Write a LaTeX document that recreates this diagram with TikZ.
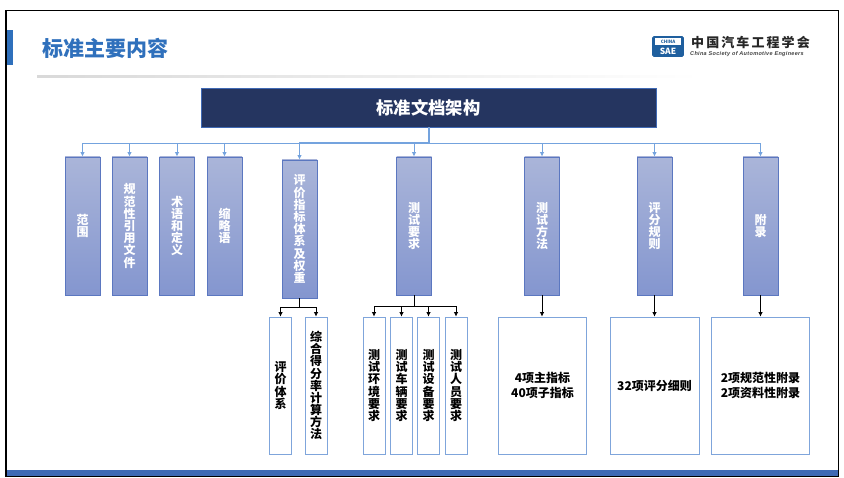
\documentclass[tikz,border=0pt]{standalone}
\usepackage{fontspec}
\setmainfont{Noto Sans CJK SC}
\newfontfamily\logofont[LetterSpace=16]{Noto Sans CJK SC}
\newfontfamily\engfont[LetterSpace=6]{Liberation Sans}
\usetikzlibrary{arrows.meta}
\definecolor{titleblue}{HTML}{2F70BC}
\definecolor{barblue}{HTML}{3F69B4}
\definecolor{navy}{HTML}{253560}
\definecolor{edgeblue}{HTML}{5B77C0}
\definecolor{paleblue}{HTML}{7FA5DB}
\definecolor{busblue}{HTML}{74A3DE}
\definecolor{logoblue}{HTML}{1F5F9E}
\definecolor{chaptop}{HTML}{AAB5D9}
\definecolor{chapbottom}{HTML}{8496CF}
\tikzset{
  chapbox/.style={draw=edgeblue,line width=0.8pt,top color=chaptop,bottom color=chapbottom,
    minimum width=35pt,minimum height=138pt,inner sep=0pt,align=center,text=white,font=\fontsize{12}{12.2}\selectfont\bfseries},
  subbox/.style={draw=paleblue,line width=0.8pt,fill=white,minimum width=22pt,minimum height=137pt,inner sep=0pt,align=center,font=\fontsize{12}{12.1}\selectfont\bfseries},
  widebox/.style={subbox,font=\fontsize{12}{15}\selectfont\bfseries},
  busline/.style={draw=busblue,line width=0.9pt},
  busarrow/.style={busline,-{Latex[length=4.5pt,width=4.5pt]}},
  subarrow/.style={draw=black,line width=0.8pt,-{Latex[length=4.5pt,width=4.5pt]}}
}
\begin{document}
\begin{tikzpicture}[x=1pt,y=-1pt]
\useasboundingbox (0,0) rectangle (844,478);
% frame and heading
\fill[white] (0,0) rectangle (844,478);
\fill[barblue] (7,470) rectangle (838,475.5);
\draw[black,line width=1.4pt] (6,10.5) rectangle (838.5,476.5);
\fill[titleblue] (7,30) rectangle (13,65);
\shade[left color=black!15,right color=white] (37,75.5) rectangle (700,77.5);
\node[text=titleblue,font=\fontsize{21}{21}\selectfont\bfseries,inner sep=0pt] (title) at (105,48) {标准主要内容};
% logo
\node[draw=logoblue,fill=logoblue,line width=0.8pt,rounded corners=1.5pt,minimum width=31pt,minimum height=20pt,inner sep=0pt] (logo) at (668,46.5) {};
\node[fill=white,minimum width=26pt,minimum height=7pt,inner sep=0pt,text=logoblue,font=\fontsize{4.5}{4.5}\selectfont\bfseries] (logochina) at (668,41.5) {CHINA};
\node[inner sep=0pt,text=white,font=\fontsize{8.5}{8.5}\selectfont\bfseries] (logosae) at (668,51) {SAE};
\node[inner sep=0pt,font=\logofont\fontsize{13}{13}\selectfont\bfseries,text=black!85,anchor=west] (logocn) at (691,42) {中国汽车工程学会};
\node[inner sep=0pt,font=\engfont\fontsize{5.5}{5.5}\selectfont\bfseries\itshape,text=black!75,anchor=west] (logoen) at (690,54) {China Society of Automotive Engineers};
% top box
\node[draw=barblue,fill=navy,line width=0.8pt,minimum width=455pt,minimum height=39pt,inner sep=0pt,text=white,font=\fontsize{17.3}{17.3}\selectfont\bfseries] (root) at (428.5,107.5) {标准文档架构};
% second row
\node[chapbox] (scope) at (82.5,226) {范\\围};
\node[chapbox] (refs) at (129.5,226) {规\\范\\性\\引\\用\\文\\件};
\node[chapbox] (terms) at (177,226) {术\\语\\和\\定\\义};
\node[chapbox] (abbr) at (224.5,226) {缩\\略\\语};
\node[chapbox] (eval) at (299.5,229) {评\\价\\指\\标\\体\\系\\及\\权\\重};
\node[chapbox] (req) at (414,226) {测\\试\\要\\求};
\node[chapbox] (method) at (542,226) {测\\试\\方\\法};
\node[chapbox] (rules) at (654.5,226) {评\\分\\规\\则};
\node[chapbox] (annex) at (760.5,226) {附\\录};
% third row
\node[subbox] (system) at (280.5,385.5) {评\\价\\体\\系};
\node[subbox] (score) at (316,385.5) {综\\合\\得\\分\\率\\计\\算\\方\\法};
\node[subbox] (envreq) at (374,385.5) {测\\试\\环\\境\\要\\求};
\node[subbox] (carreq) at (401.5,385.5) {测\\试\\车\\辆\\要\\求};
\node[subbox] (devreq) at (428.5,385.5) {测\\试\\设\\备\\要\\求};
\node[subbox] (staffreq) at (456,385.5) {测\\试\\人\\员\\要\\求};
\node[widebox,minimum width=88pt] (metrics) at (542.5,385.5) {4项主指标\\40项子指标};
\node[widebox,minimum width=89pt] (items) at (654.5,385.5) {32项评分细则};
\node[widebox,minimum width=98.5pt] (annexes) at (760.5,385.5) {2项规范性附录\\2项资料性附录};
% blue bus
\coordinate (bus) at (429,143);
\draw[busline,line width=1.3pt] (root.south-|bus) -- (bus);
\draw[busarrow] (bus) -| (scope.north);
\draw[busarrow] (bus) -| (refs.north);
\draw[busarrow] (bus) -| (terms.north);
\draw[busarrow] (bus) -| (abbr.north);
\draw[busarrow,line width=1.3pt] (bus) -| (eval.north);
\draw[busarrow] (bus) -| (req.north);
\draw[busarrow] (bus) -| (method.north);
\draw[busarrow] (bus) -| (rules.north);
\draw[busarrow] (bus) -| (annex.north);
% black links
\coordinate (evalfork) at (299.5,307);
\coordinate (reqfork) at (414,306);
\draw[line width=0.8pt] (eval.south) -- (evalfork);
\draw[subarrow] (evalfork) -| (system.north);
\draw[subarrow] (evalfork) -| (score.north);
\draw[line width=0.8pt] (req.south) -- (reqfork);
\draw[subarrow] (reqfork) -| (envreq.north);
\draw[subarrow] (reqfork) -| (carreq.north);
\draw[subarrow] (reqfork) -| (devreq.north);
\draw[subarrow] (reqfork) -| (staffreq.north);
\draw[subarrow] (method.south) -- (metrics.north-|method.south);
\draw[subarrow] (rules.south) -- (items.north);
\draw[subarrow] (annex.south) -- (annexes.north);
\end{tikzpicture}
\end{document}
